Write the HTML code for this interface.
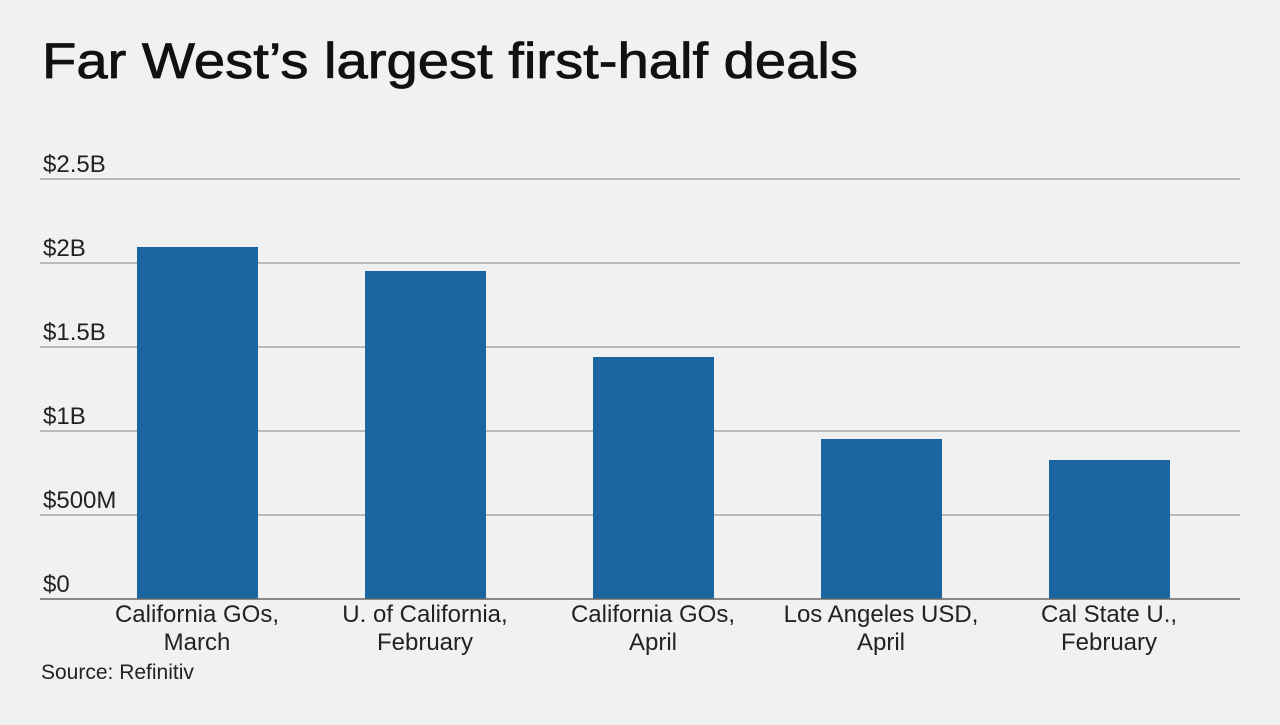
<!DOCTYPE html>
<html><head><meta charset="utf-8"><style>
body{margin:0;width:1280px;height:720px;background:#f0f1f1;font-family:"Liberation Sans",sans-serif;overflow:hidden;}
</style></head><body>
<svg width="1280" height="720" xmlns="http://www.w3.org/2000/svg" font-family="Liberation Sans, sans-serif">
<rect width="1280" height="720" fill="#f0f1f1"/>
<text x="42" y="78" font-size="50" fill="#111" stroke="#111" stroke-width="0.8" textLength="816" lengthAdjust="spacingAndGlyphs">Far West’s largest first-half deals</text>
<g stroke="#9a9a9a" stroke-width="1.3">
<line x1="40" x2="1240" y1="179" y2="179"/>
<line x1="40" x2="1240" y1="263" y2="263"/>
<line x1="40" x2="1240" y1="347" y2="347"/>
<line x1="40" x2="1240" y1="431" y2="431"/>
<line x1="40" x2="1240" y1="515" y2="515"/>
</g>
<g font-size="24" fill="#222">
<text x="43" y="172">$2.5B</text>
<text x="43" y="256">$2B</text>
<text x="43" y="340">$1.5B</text>
<text x="43" y="424">$1B</text>
<text x="43" y="508">$500M</text>
<text x="43" y="592">$0</text>
</g>
<g fill="#1b66a0">
<rect x="137" y="247" width="121" height="352"/>
<rect x="365" y="271" width="121" height="328"/>
<rect x="593" y="357" width="121" height="242"/>
<rect x="821" y="439" width="121" height="160"/>
<rect x="1049" y="460" width="121" height="139"/>
</g>
<line x1="40" x2="1240" y1="599" y2="599" stroke="#666" stroke-width="1.5"/>
<g font-size="24" fill="#222" text-anchor="middle">
<text x="197" y="622">California GOs,</text><text x="197" y="650">March</text>
<text x="425" y="622">U. of California,</text><text x="425" y="650">February</text>
<text x="653" y="622">California GOs,</text><text x="653" y="650">April</text>
<text x="881" y="622">Los Angeles USD,</text><text x="881" y="650">April</text>
<text x="1109" y="622">Cal State U.,</text><text x="1109" y="650">February</text>
</g>
<text x="41" y="679" font-size="21" fill="#222">Source: Refinitiv</text>
</svg>
</body></html>
